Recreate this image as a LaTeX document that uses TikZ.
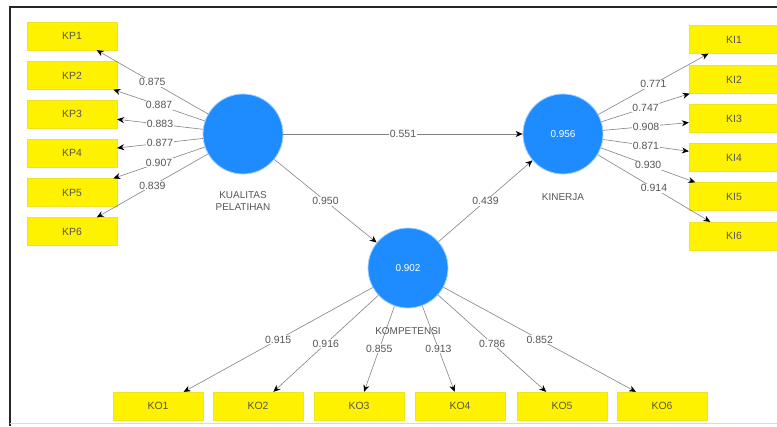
\documentclass[tikz,border=0pt]{standalone}
\usepackage{fontspec}
\setmainfont{Liberation Sans}
\usetikzlibrary{arrows.meta}
\definecolor{latent}{RGB}{30,140,255}
\definecolor{txtgray}{RGB}{85,85,85}
\definecolor{linegray}{RGB}{130,130,130}
\begin{document}
\begin{tikzpicture}[x=1bp,y=-1bp,
  indicator/.style={rectangle,fill=yellow,draw=yellow!85!gray,line width=0.3bp,minimum width=90bp,minimum height=28bp,inner sep=0pt,font=\fontsize{10.5}{12}\selectfont,text=txtgray},
  construct/.style={circle,fill=latent,draw=latent!40,line width=0.8bp,minimum size=80bp,inner sep=0pt,font=\fontsize{10}{11}\selectfont,text=white},
  caption/.style={font=\fontsize{10}{12}\selectfont,text=txtgray,align=center},
  load/.style={fill=white,inner sep=0.8bp,font=\fontsize{10.5}{12}\selectfont,text=txtgray},
  path/.style={draw=linegray,line width=0.6bp,-{Stealth[black,length=7bp,width=6bp]}}]
\useasboundingbox (0,0) rectangle (777,426);
% frame
\draw[line width=1.2bp,black!85] (10,426)--(10,7)--(777,7);
\draw[line width=0.8bp,black!15] (10,423)--(777,423);

% constructs
\node[construct] (kual) at (243,134) {};
\node[caption] at (243,201) {KUALITAS\\PELATIHAN};
\node[construct] (kin) at (563,134) {0.956};
\node[caption] at (563,197) {KINERJA};
\node[construct] (komp) at (408,268) {0.902};

% indicators of KUALITAS PELATIHAN
\node[indicator] (kp1) at (72,36) {KP1};
\node[indicator] (kp2) at (72,75.5) {KP2};
\node[indicator] (kp3) at (72,114) {KP3};
\node[indicator] (kp4) at (72,153) {KP4};
\node[indicator] (kp5) at (72,192.5) {KP5};
\node[indicator] (kp6) at (72,231.5) {KP6};

% indicators of KINERJA
\node[indicator] (ki1) at (734,39.5) {KI1};
\node[indicator] (ki2) at (734,79.5) {KI2};
\node[indicator] (ki3) at (734,118.5) {KI3};
\node[indicator] (ki4) at (734,157.5) {KI4};
\node[indicator] (ki5) at (734,196.5) {KI5};
\node[indicator] (ki6) at (734,236) {KI6};

% indicators of KOMPETENSI
\node[indicator] (ko1) at (158,406) {KO1};
\node[indicator] (ko2) at (258,406) {KO2};
\node[indicator] (ko3) at (359,406) {KO3};
\node[indicator] (ko4) at (460,406) {KO4};
\node[indicator] (ko5) at (562,406) {KO5};
\node[indicator] (ko6) at (662,406) {KO6};

% outer loadings
\draw[path] (kual) -- node[load] {0.875} (kp1);
\draw[path] (kual) -- node[load] {0.887} (kp2);
\draw[path] (kual) -- node[load] {0.883} (kp3);
\draw[path] (kual) -- node[load] {0.877} (kp4);
\draw[path] (kual) -- node[load] {0.907} (kp5);
\draw[path] (kual) -- node[load] {0.839} (kp6);

\draw[path] (kin) -- node[load] {0.771} (ki1);
\draw[path] (kin) -- node[load] {0.747} (ki2);
\draw[path] (kin) -- node[load] {0.908} (ki3);
\draw[path] (kin) -- node[load] {0.871} (ki4);
\draw[path] (kin) -- node[load] {0.930} (ki5);
\draw[path] (kin) -- node[load] {0.914} (ki6);

\draw[path] (komp) -- node[load] {0.915} (ko1);
\draw[path] (komp) -- node[load] {0.916} (ko2);
\draw[path] (komp) -- node[load] {0.855} (ko3);
\draw[path] (komp) -- node[load] {0.913} (ko4);
\draw[path] (komp) -- node[load] {0.786} (ko5);
\draw[path] (komp) -- node[load] {0.852} (ko6);

% inner model
\draw[path] (kual) -- node[load] {0.551} (kin);
\draw[path] (kual) -- node[load] {0.950} (komp);
\draw[path] (komp) -- node[load] {0.439} (kin);

\node[caption] at (408,331) {KOMPETENSI};
\end{tikzpicture}
\end{document}
